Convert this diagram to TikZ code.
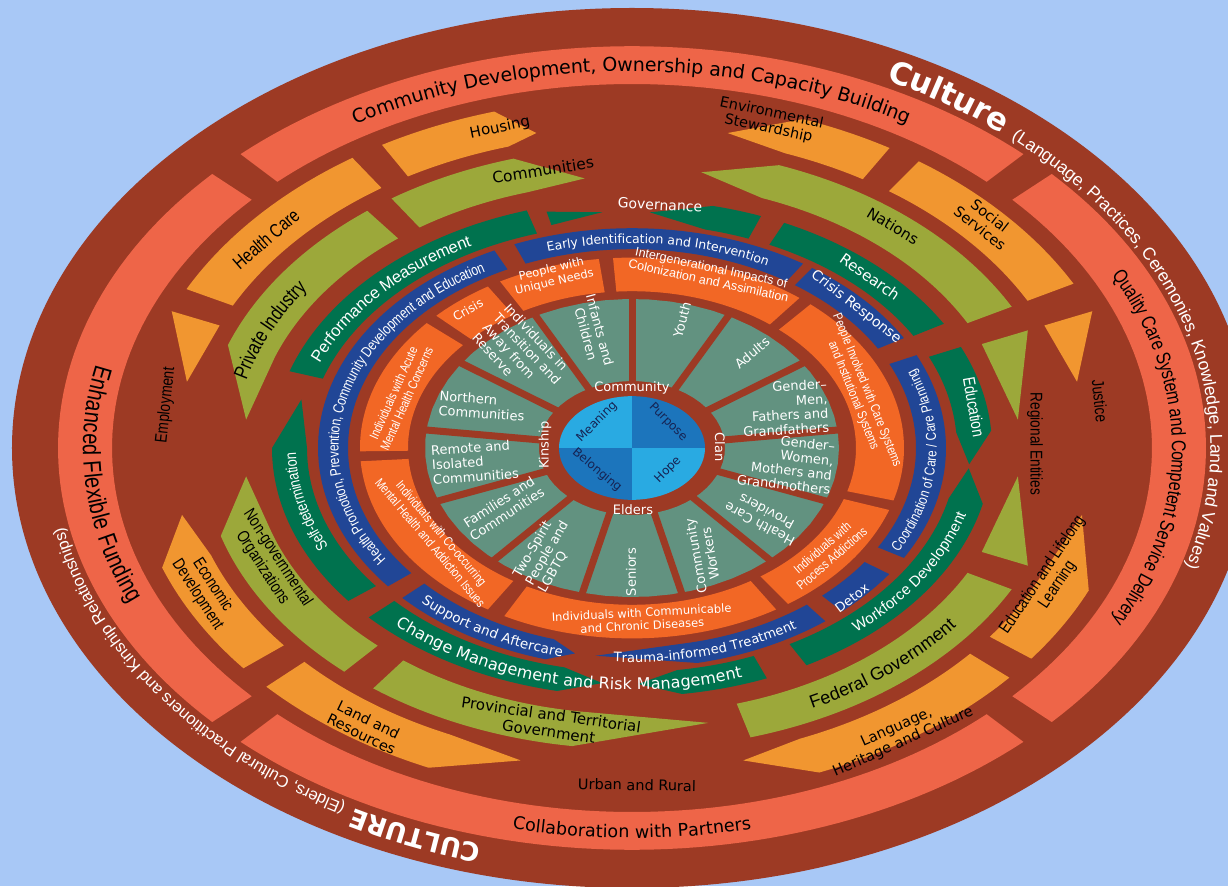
\documentclass[tikz,border=0pt]{standalone}
\usepackage{fontspec}
\setmainfont{Liberation Sans}
\newfontfamily\wideF{DejaVu Sans}
\newfontfamily\condF[FakeStretch=0.8]{Liberation Sans}
\usetikzlibrary{decorations.text}
\definecolor{bgc}{RGB}{168,200,246}
\definecolor{dred}{RGB}{157,58,36}
\definecolor{lred}{RGB}{238,101,72}
\definecolor{orn}{RGB}{241,150,48}
\definecolor{grn}{RGB}{156,168,58}
\definecolor{dgr}{RGB}{0,114,78}
\definecolor{blu}{RGB}{33,70,150}
\definecolor{ior}{RGB}{242,103,37}
\definecolor{tea}{RGB}{98,146,128}
\definecolor{cla}{RGB}{41,170,226}
\definecolor{clb}{RGB}{28,117,188}
\definecolor{nav}{RGB}{22,36,84}
\def\kk{0.70}
\newcommand\fsz[1]{\fontsize{#1pt}{#1pt}\selectfont}
\newcommand\rseg[5]{\fill[#1] plot[domain=#4:#5,samples=60] ({#3*cos(\x)},{\kk*#3*sin(\x)}) -- plot[domain=#5:#4,samples=60] ({#2*cos(\x)},{\kk*#2*sin(\x)}) -- cycle;}
\newcommand\rtap[7]{\fill[#1] plot[domain=#4:#5,samples=40] ({#3*cos(\x)},{\kk*#3*sin(\x)}) -- ({#7*cos(#6)},{\kk*#7*sin(#6)}) -- plot[domain=#5:#4,samples=40] ({#2*cos(\x)},{\kk*#2*sin(\x)}) -- cycle;}
\newcommand\rtri[6]{\fill[#1] ({#3*cos(#4)},{\kk*#3*sin(#4)}) -- ({#6*cos(#5)},{\kk*#6*sin(#5)}) -- ({#2*cos(#4)},{\kk*#2*sin(#4)}) -- cycle;}
\newcommand\rarc[6]{\path[decorate,decoration={text along path,text align=center,raise=#6,text={|#4|#5}}] plot[domain=#1:#2,samples=150] ({#3*cos(\x)},{\kk*#3*sin(\x)});}
\newcommand\rarcl[6]{\path[decorate,decoration={text along path,text align=left,raise=#6,text={|#4|#5}}] plot[domain=#1:#2,samples=150] ({#3*cos(\x)},{\kk*#3*sin(\x)});}
\tikzset{
  lab/.style={inner sep=0pt, align=center},
  blk/.style={lab, text=black},
  wht/.style={lab, text=white},
  tl/.style={wht, font={\wideF\fontsize{13pt}{14.5pt}\selectfont}},
  il/.style={wht, font={\condF\fontsize{13pt}{14.5pt}\selectfont}},
  cl/.style={lab, text=nav, font={\wideF\fsz{12}}},
}
\begin{document}
\begin{tikzpicture}[x=1pt,y=1pt]
\useasboundingbox (-632,448) rectangle (596,-438);
\fill[bgc] (-632,448) rectangle (596,-438);
\fill[dred] (0,0) ellipse [x radius=620pt, y radius=440pt];
% light red ring
\def\kk{0.70}
\rseg{lred}{520}{574}{47}{133}
\rseg{lred}{520}{574}{-43}{43}
\rseg{lred}{520}{574}{227}{313}
\rseg{lred}{520}{574}{137}{223}
% orange ring
\rtap{orn}{448}{500}{120}{106}{102}{460}
\rseg{orn}{448}{500}{124}{153}
\rtri{orn}{448}{500}{157}{168}{455}
\rtap{orn}{448}{500}{219}{200}{192}{460}
\rtap{orn}{448}{500}{223}{246}{256}{460}
\rtap{orn}{448}{500}{319}{292}{284}{460}
\rtap{orn}{448}{500}{323}{336}{348}{460}
\rtri{orn}{448}{500}{23}{12}{455}
\rseg{orn}{448}{500}{28}{55}
\rtap{orn}{448}{500}{59}{70}{78}{460}
% green ring
\rtap{grn}{380}{430}{124}{106}{97}{388}
\rtap{grn}{380}{430}{128}{160}{174}{388}
\rtap{grn}{380}{430}{228}{197}{186}{388}
\rtap{grn}{380}{430}{233}{262}{281}{400}
\rseg{grn}{380}{430}{286}{332}
\rtri{grn}{380}{430}{-23}{-6}{388}
\rtri{grn}{380}{430}{23}{6}{388}
\rtap{grn}{380}{430}{28}{70}{80}{400}
% dark green ring
\def\kk{0.69}
\rseg{dgr}{325}{360}{107}{162}
\rtri{dgr}{333}{353}{104}{95}{343}
\rtap{dgr}{325}{360}{69}{77}{87}{342}
\rseg{dgr}{325}{360}{30}{65}
\rtap{dgr}{325}{360}{24}{4}{-4}{338}
\rtap{dgr}{325}{360}{-61}{-13}{-5}{338}
\rtap{dgr}{325}{360}{223}{258}{265}{342}
\rtap{dgr}{325}{360}{292}{278}{271}{342}
\rtap{dgr}{325}{360}{218}{180}{168}{338}
% blue ring
\def\kk{0.70}
\rseg{blu}{284}{314}{57}{112}
\rseg{blu}{284}{314}{30}{55}
\rseg{blu}{284}{314}{-30}{25}
\rseg{blu}{284}{314}{-48}{-35}
\rtap{blu}{284}{314}{-52}{-78}{-97}{299}
\rtap{blu}{284}{314}{223}{254}{259}{299}
\rseg{blu}{284}{314}{116}{219}
% inner orange ring
\rseg{ior}{224}{272}{97}{119}
\rseg{ior}{224}{272}{122}{136}
\rseg{ior}{224}{272}{139}{181}
\rseg{ior}{224}{272}{184}{238}
\rseg{ior}{224}{272}{242}{302}
\rseg{ior}{224}{272}{305}{341}
\rseg{ior}{224}{272}{344}{409}
\rseg{ior}{224}{272}{52}{94}
% teal ring
\def\kk{0.72}
\rseg{tea}{93}{207}{0}{360}
\foreach \b in {0,...,12}{
  \draw[dred, line width=7pt] ({90*cos(90-27.6923*\b)},{0.72*90*sin(90-27.6923*\b)}) -- ({210*cos(90-27.6923*\b)},{0.72*210*sin(90-27.6923*\b)});
}
% centre
\def\kk{0.71}
\fill[cla] (0,0) -- plot[domain=90:180,samples=30] ({73*cos(\x)},{\kk*73*sin(\x)}) -- cycle;
\fill[clb] (0,0) -- plot[domain=0:90,samples=30] ({73*cos(\x)},{\kk*73*sin(\x)}) -- cycle;
\fill[clb] (0,0) -- plot[domain=180:270,samples=30] ({73*cos(\x)},{\kk*73*sin(\x)}) -- cycle;
\fill[cla] (0,0) -- plot[domain=270:360,samples=30] ({73*cos(\x)},{\kk*73*sin(\x)}) -- cycle;

% ---- curved texts ----
\def\kk{0.71}
\rarcl{64}{-40}{583}{\wideF\bfseries\fsz{31}\color{white}}{Culture |\normalfont\fsz{17.5}\color{white}|(Language, Practices, Ceremonies, Knowledge, Land and Values)}{-4.5pt}
\rarcl{255}{168}{584}{\wideF\bfseries\fsz{26}\color{white}}{CULTURE |\normalfont\fsz{16.5}\color{white}|(Elders, Cultural Practitioners and Kinship Relationships)}{-4.5pt}
\def\kk{0.70}
\rarc{132}{48}{548}{\wideF\fsz{19}\color{black}}{Community Development, Ownership and Capacity Building}{-7pt}
\rarc{42}{-42}{547}{\condF\fsz{20}\color{black}}{Quality Care System and Competent Service Delivery}{-7pt}
\rarc{230}{310}{548}{\wideF\fsz{17.5}\color{black}}{Collaboration with Partners}{-6.5pt}
\rarc{148}{222}{540}{\condF\fsz{25}\color{black}}{Enhanced Flexible Funding}{-9pt}
\rarc{288}{332}{405}{\normalfont\fsz{18}\color{black}}{Federal Government}{-6.5pt}
\rarc{177}{135}{405}{\condF\fsz{20.5}\color{black}}{Private Industry}{-7.5pt}
\def\kk{0.69}
\rarc{165}{113}{342}{\normalfont\fsz{16.5}\color{white}}{Performance Measurement}{-6pt}
\rarc{305}{351}{342}{\normalfont\fsz{15}\color{white}}{Workforce Development}{-5.5pt}
\rarc{222}{293}{342}{\wideF\fsz{16}\color{white}}{Change Management and Risk Management}{-6pt}
\rarc{212}{174}{342}{\condF\fsz{16}\color{white}}{Self-determination}{-6pt}
\def\kk{0.70}
\rarc{220}{114}{299}{\condF\fsz{15}\color{white}}{Health Promotion, Prevention, Community Development and Education}{-5.5pt}
\rarc{114}{55}{299}{\wideF\fsz{12.5}\color{white}}{Early Identification and Intervention}{-4.5pt}
\rarc{-33}{26}{299}{\condF\fsz{14.5}\color{white}}{Coordination of Care / Care Planning}{-5.5pt}
\rarc{262}{308}{299}{\wideF\fsz{13}\color{white}}{Trauma-informed Treatment}{-5pt}
\rarc{222}{260}{299}{\wideF\fsz{13.5}\color{white}}{Support and Aftercare}{-5pt}

% ---- orange ring labels ----
\node[blk, font={\wideF\fsz{15}}, rotate=11.7] (housing) at (-132,320) {Housing};
\node[blk, font={\wideF\fontsize{14.5pt}{15.5pt}\selectfont}, rotate=-12] (envstew) at (138,327) {Environmental\\Stewardship};
\node[blk, font={\condF\fsz{19}}, rotate=41] (healthcare) at (-366,209) {Health Care};
\node[blk, font={\condF\fsz{17}}, rotate=84] (employment) at (-466,43) {Employment};
\node[blk, font={\condF\fontsize{17pt}{18pt}\selectfont}, rotate=-57] (econdev) at (-427,-142) {Economic\\Development};
\node[blk, font={\wideF\fontsize{14.5pt}{16pt}\selectfont}, rotate=-26] (landres) at (-267,-279) {Land and\\Resources};
\node[blk, font={\wideF\fontsize{14.5pt}{16pt}\selectfont}, rotate=24] (language) at (268,-287) {Language,\\Heritage and Culture};
\node[blk, font={\condF\fontsize{17pt}{18pt}\selectfont}, rotate=56] (edull) at (418,-132) {Education and Lifelong\\Learning};
\node[blk, font={\condF\fsz{17}}, rotate=-84] (justice) at (468,47) {Justice};
\node[blk, font={\wideF\fontsize{14.5pt}{16pt}\selectfont}, rotate=-38] (socserv) at (353,226) {Social\\Services};
\node[blk, font={\wideF\fsz{14.5}}, rotate=-1] (urban) at (5,-337) {Urban and Rural};
% ---- green ring labels ----
\node[blk, font={\wideF\fsz{15.5}}, rotate=9] (communities) at (-89,278) {Communities};
\node[blk, font={\wideF\fsz{15}}, rotate=-31] (nations) at (261,222) {Nations};
\node[blk, font={\condF\fsz{17}}, rotate=-90] (regional) at (403,4) {Regional Entities};
\node[blk, font={\wideF\fontsize{15pt}{17pt}\selectfont}, rotate=-8] (provincial) at (-82,-275) {Provincial and Territorial\\Government};
\node[blk, font={\condF\fontsize{17pt}{18pt}\selectfont}, rotate=-57] (ngo) at (-362,-115) {Non-governmental\\Organizations};
% ---- dark green / blue labels ----
\node[wht, font={\wideF\fsz{14}}, rotate=-3] (governance) at (28,243) {Governance};
\node[wht, font={\wideF\fsz{15}}, rotate=-35] (research) at (238,171) {Research};
\node[wht, font={\condF\fsz{17}}, rotate=-80] (education) at (342,41) {Education};
\node[wht, font={\wideF\fsz{14}}, rotate=-38] (crisisresp) at (224,141) {Crisis Response};
\node[wht, font={\wideF\fsz{13}}, rotate=37] (detox) at (220,-150) {Detox};
% ---- inner orange labels ----
\node[wht, font={\fontsize{12.5pt}{13.5pt}\selectfont}, rotate=-12] (intergen) at (78,174) {Intergenerational Impacts of\\Colonization and Assimilation};
\node[il, rotate=-68] (peopleinv) at (228,55) {People Involved with Care Systems\\and Institutional Systems};
\node[il, rotate=41] (process) at (195,-105) {Individuals with\\Process Addictions};
\node[wht, font={\wideF\fontsize{11.5pt}{13pt}\selectfont}, rotate=3] (communicable) at (10,-171) {Individuals with Communicable\\and Chronic Diseases};
\node[il, rotate=-50] (cooccur) at (-196,-90) {Individuals with Co-occurring\\Mental Health and Addiction Issues};
\node[il, rotate=66] (acute) at (-232,52) {Individuals with Acute\\Mental Health Concerns};
\node[wht, font={\wideF\fsz{12}}, rotate=30] (crisis) at (-164,138) {Crisis};
\node[wht, font={\wideF\fontsize{11.5pt}{13pt}\selectfont}, rotate=13] (unique) at (-79,172) {People with\\Unique Needs};
% ---- teal sector labels ----
\node[tl, rotate=-75] (infants) at (-39,116) {Infants and\\Children};
\node[tl, rotate=75] (youth) at (50,128) {Youth};
\node[tl, rotate=40] (adults) at (120,95) {Adults};
\node[tl, align=right, rotate=3] (men) at (153,40) {Gender–\\Men,\\Fathers and\\Grandfathers};
\node[tl, align=right, rotate=-6] (women) at (154,-15) {Gender–\\Women,\\Mothers and\\Grandmothers};
\node[tl, rotate=152] (hcp) at (131,-70) {Health Care\\Providers};
\node[tl, rotate=100] (cworkers) at (71,-107) {Community\\Workers};
\node[tl, rotate=90] (seniors) at (-1,-124) {Seniors};
\node[tl, align=left, rotate=60] (twospirit) at (-85,-105) {Two-Spirit\\People and\\LGBTQ};
\node[tl, rotate=33] (families) at (-129,-60) {Families and\\Communities};
\node[tl, align=left, rotate=4] (remote) at (-157,-14) {Remote and\\Isolated\\Communities};
\node[tl, align=left, rotate=-4] (northern) at (-150,42) {Northern\\Communities};
\node[tl, align=left, rotate=-47] (transition) at (-110,94) {Individuals in\\Transition and\\Away from\\Reserve};
% ---- centre ring labels ----
\node[wht, font={\wideF\fsz{13}}] (community) at (0,60) {Community};
\node[wht, font={\wideF\fsz{13}}, rotate=-90] (clan) at (88,1) {Clan};
\node[wht, font={\wideF\fsz{13}}] (elders) at (1,-62) {Elders};
\node[wht, font={\wideF\fsz{13}}, rotate=90] (kinship) at (-87,3) {Kinship};
\node[cl, rotate=45] (meaning) at (-35,26) {Meaning};
\node[cl, rotate=-45] (purpose) at (36,26) {Purpose};
\node[cl, rotate=-40] (belonging) at (-35,-22) {Belonging};
\node[cl, rotate=45] (hope) at (36,-22) {Hope};
\end{tikzpicture}
\end{document}
